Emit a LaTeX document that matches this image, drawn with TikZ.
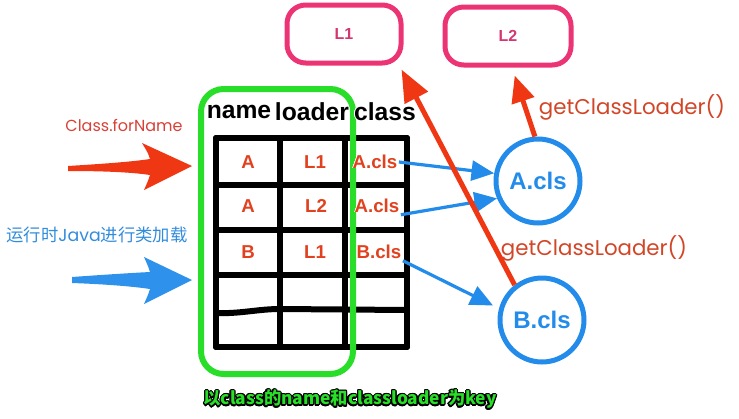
\documentclass[tikz,border=0pt]{standalone}
\usepackage{fontspec}
\setmainfont{Liberation Sans}
\newfontfamily\pop{Poppins}
\newfontfamily\cjk{Noto Sans CJK SC}
\usepackage{contour}
\usetikzlibrary{arrows.meta}
\definecolor{pinkc}{RGB}{236,52,116}
\definecolor{pinktxt}{RGB}{214,53,112}
\definecolor{greenc}{RGB}{40,222,40}
\definecolor{bluec}{RGB}{35,140,235}
\definecolor{redarr}{RGB}{240,55,20}
\definecolor{celltxt}{RGB}{225,65,30}
\definecolor{lbltxt}{RGB}{210,70,40}
\definecolor{bluetxt}{RGB}{50,140,220}
\tikzset{
  pinkbox/.style={draw=pinkc, line width=3.75pt, rounded corners=14pt, minimum height=43.5pt, font=\bfseries\fontsize{12}{12}\selectfont, text=pinktxt},
  clsnode/.style={circle, draw=bluec, line width=3.75pt, minimum size=63pt, inner sep=0pt, font=\bfseries\fontsize{18}{18}\selectfont, text=bluec},
  hdr/.style={font=\bfseries\fontsize{18.5}{18.5}\selectfont, inner sep=0pt},
  cell/.style={font=\bfseries\fontsize{14}{14}\selectfont, text=celltxt, inner sep=1pt},
  grid/.style={line width=4.5pt, line cap=round},
  bluearrow/.style={draw=bluec, line width=2.4pt, -{Triangle[length=17pt,width=15pt]}},
  redarrow/.style={draw=redarr, line width=3.75pt, -{Triangle[length=20pt,width=17pt]}},
  lbl/.style={font=\pop\fontsize{16}{16}\selectfont, text=lbltxt, inner sep=0pt},
}
\begin{document}
\begin{tikzpicture}[x=0.75pt,y=-0.75pt]
\useasboundingbox (0,0) rectangle (739,418);
% loader boxes
\node[pinkbox, minimum width=85.5pt] (L1) at (344,34) {L1};
\node[pinkbox, minimum width=94.5pt] (L2) at (508,36) {L2};
% table grid
\draw[grid] (216,138) -- (216,347);
\draw[grid] (280,138) -- (280,347);
\draw[grid] (345,138) -- (345,347);
\draw[grid] (407,138) -- (407,347);
\draw[grid] (216,138) -- (407,138);
\draw[grid] (216,185) -- (407,185);
\draw[grid] (216,230) -- (407,230);
\draw[grid] (216,275) -- (407,275);
\draw[grid] (216,313) .. controls (240,314) and (258,309) .. (280,309) -- (407,310);
\draw[grid] (216,347) -- (407,347);
% key box
\node[draw=greenc, line width=4.5pt, rounded corners=17pt, minimum width=114pt, minimum height=213.75pt] (keybox) at (277,231.5) {};
% header
\node[hdr] (hname) at (239,112) {\contour{white}{name}};
\node[hdr] (hloader) at (312,112) {\contour{white}{loader}};
\node[hdr] (hclass) at (385,112) {\contour{white}{class}};
% cells
\node[cell] (n1) at (248,162) {\contour{white}{A}};
\node[cell] (d1) at (315,162) {\contour{white}{L1}};
\node[cell] (c1) at (375,162) {\contour{white}{A.cls}};
\node[cell] (n2) at (248,206) {\contour{white}{A}};
\node[cell] (d2) at (316,206) {\contour{white}{L2}};
\node[cell] (c2) at (377,206) {\contour{white}{A.cls}};
\node[cell] (n3) at (248,252) {\contour{white}{B}};
\node[cell] (d3) at (315,252) {\contour{white}{L1}};
\node[cell] (c3) at (379,252) {\contour{white}{B.cls}};
% class objects
\node[clsnode] (acls) at (538,181) {A.cls};
\node[clsnode] (bcls) at (542,320) {B.cls};
% blue arrows
\draw[bluearrow] (c1.east) -- (acls.170);
\draw[bluearrow] (c2.south east) -- (acls.203);
\draw[bluearrow, shorten >=5pt] (c3.south east) -- (bcls.165);
% red arrows
\draw[redarrow, -{Triangle[length=24pt,width=19pt]}] (bcls.128) -- ([xshift=-1.5pt,yshift=-3pt]L1.south east);
\draw[redarrow] (acls.94) -- ([xshift=5pt,yshift=-6pt]L2.south);
% labels
\node[lbl] (gcl1) at (632,107) {getClassLoader()};
\node[lbl] (gcl2) at (594,248) {getClassLoader()};
\node[lbl, font=\pop\fontsize{12}{12}\selectfont, text={rgb,255:red,215;green,65;blue,55}] (cfn) at (124,125) {Class.forName};
\node[inner sep=0pt, text=bluetxt, font=\fontsize{13}{13}\selectfont] (rt) at (97,235) {\cjk 运行时{\pop Java}进行类加载};
% big left arrows
\fill[redarr] (68,166) .. controls (100,164) and (130,162) .. (150,159) .. controls (148,153) .. (142,143) -- (192,166) -- (144,190) .. controls (148,181) .. (150,175) .. controls (130,172) and (100,171) .. (68,171) -- cycle;
\fill[bluec!95!white] (72,277) .. controls (100,275) and (130,273) .. (150,272) .. controls (148,266) .. (144,257) -- (192,280) -- (144,304) .. controls (148,295) .. (150,289) .. controls (130,286) and (100,284) .. (72,283) -- cycle;
% bottom caption
\node[inner sep=0pt, font=\cjk\bfseries\fontsize{13}{13}\selectfont, text=greenc] (cap) at (350,400) {\contourlength{0.9pt}\contour{black}{以class的name和classloader为key}};
\end{tikzpicture}
\end{document}
